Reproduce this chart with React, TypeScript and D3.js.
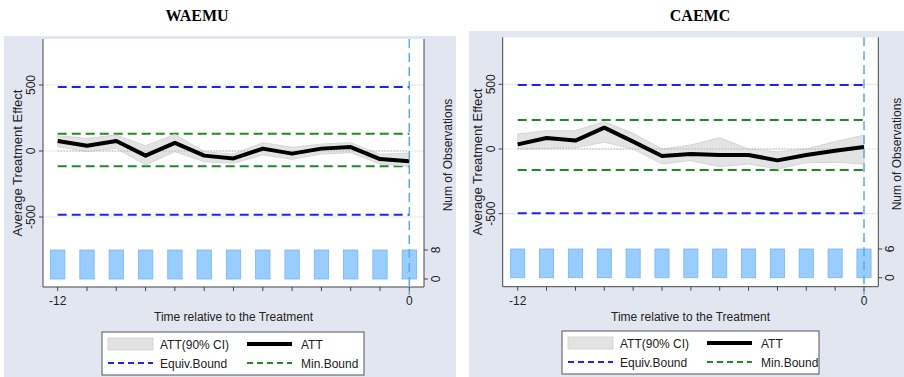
import React from "react";
import * as d3 from "d3";

// event time, relative to the treatment
const periods = [-12, -11, -10, -9, -8, -7, -6, -5, -4, -3, -2, -1, 0];
const yTicks = [-500, 0, 500];

// WAEMU
const waemuAtt = [76, 40, 76, -35, 61, -35, -56, 18, -20, 18, 30, -61, -78];
const waemuLo = [33, -5, 20, -106, -5, -81, -93, -30, -63, -23, -13, -99, -116];
const waemuHi = [116, 96, 121, 40, 126, -5, -23, 63, 28, 53, 63, -25, -15];
const waemuObs = [8, 8, 8, 8, 8, 8, 8, 8, 8, 8, 8, 8, 8];
const waemuEquiv = [485, -483];
const waemuMin = [131, -116];

// CAEMC
const caemcAtt = [36, 85, 65, 165, 57, -54, -39, -46, -46, -88, -46, -13, 15];
const caemcLo = [0, 5, 10, 52, 0, -116, -90, -137, -116, -155, -106, -103, -116];
const caemcHi = [116, 142, 142, 212, 121, 0, 31, 88, 0, -21, 0, 57, 108];
const caemcObs = [6, 6, 6, 6, 6, 6, 6, 6, 6, 6, 6, 6, 6];
const caemcEquiv = [495, -497];
const caemcMin = [224, -162];

const SANS = "'Liberation Sans', Arial, sans-serif";
const SERIF = "'Liberation Serif', 'Times New Roman', serif";
const BLUE = "#2020ff";
const GREEN = "#1e8c1e";
const VLINE = "#5aa9f5";

type PanelProps = {
  title: string;
  titleX: number;
  bg: [number, number, number, number];
  box: [number, number, number, number];
  xRange: [number, number];
  yRange: [number, number];
  rRange: [number, number];
  obsTick: number;
  att: number[];
  lo: number[];
  hi: number[];
  obs: number[];
  equiv: number[];
  minB: number[];
  legend: [number, number, number, number];
};

const Panel = (p: PanelProps) => {
  const [x0, y0, x1, y1] = p.box;
  const x = d3.scaleLinear().domain([-12, 0]).range(p.xRange);
  const y = d3.scaleLinear().domain([-500, 500]).range(p.yRange);
  const yR = d3.scaleLinear().domain([0, p.obsTick]).range(p.rRange);
  const step = x(1) - x(0);
  const barW = step * 0.49;

  const band = d3
    .area<number>()
    .x((d) => x(d))
    .y0((_, i) => y(p.lo[i]))
    .y1((_, i) => y(p.hi[i]));
  const line = d3
    .line<number>()
    .x((d) => x(d))
    .y((_, i) => y(p.att[i]));

  const [lx, ly, lw, lh] = p.legend;
  const midY = (y0 + y1) / 2;
  // keep the right-hand title inside the page
  const rightTitleX = Math.min(x1 + 27.5, 901);

  return (
    <g>
      <rect x={p.bg[0]} y={p.bg[1]} width={p.bg[2]} height={p.bg[3]} fill="#e2e6f1" />
      <text x={p.titleX} y={20.5} textAnchor="middle" fontFamily={SERIF} fontWeight="bold" fontSize={16}>
        {p.title}
      </text>
      <rect x={x0} y={y0} width={x1 - x0} height={y1 - y0} fill="#fff" />

      {/* grid */}
      {yTicks.map((t) => (
        <line key={t} x1={x0} x2={x1} y1={y(t)} y2={y(t)} stroke="#e9e9e9" strokeWidth={1.2} />
      ))}

      {/* observations */}
      {periods.map((t, i) => (
        <rect
          key={t}
          x={x(t) - barW / 2}
          y={yR(p.obs[i])}
          width={barW}
          height={yR(0) - yR(p.obs[i])}
          fill="#99ccff"
          stroke="#74b6fb"
          strokeWidth={0.8}
        />
      ))}

      {/* bounds */}
      {p.equiv.map((v, i) => (
        <line key={"e" + i} x1={x(-12)} x2={x(0)} y1={y(v)} y2={y(v)} stroke={BLUE} strokeWidth={2} strokeDasharray="9,5" />
      ))}
      {p.minB.map((v, i) => (
        <line key={"m" + i} x1={x(-12)} x2={x(0)} y1={y(v)} y2={y(v)} stroke={GREEN} strokeWidth={2} strokeDasharray="9,5" />
      ))}

      <path d={band(periods) ?? ""} fill="#e3e3e3" stroke="#cfcfcf" strokeWidth={0.8} />
      <line x1={x(-12)} x2={x(0)} y1={y(0)} y2={y(0)} stroke="#9a9a9a" strokeWidth={1} strokeDasharray="1,2" />
      <path d={line(periods) ?? ""} fill="none" stroke="#000" strokeWidth={4} strokeLinejoin="round" />

      <line x1={x(0)} x2={x(0)} y1={y0} y2={y1 + 8} stroke={VLINE} strokeWidth={1.5} strokeDasharray="9,5" />

      {/* axes */}
      <line x1={x0} x2={x0} y1={y0} y2={y1} stroke="#444" />
      <line x1={x1} x2={x1} y1={y0} y2={y1} stroke="#444" />
      <line x1={x0} x2={x1} y1={y1} y2={y1} stroke="#444" />
      {yTicks.map((t) => (
        <g key={t}>
          <line x1={x0 - 4} x2={x0} y1={y(t)} y2={y(t)} stroke="#444" />
          <text transform={`translate(${x0 - 8},${y(t)}) rotate(-90)`} textAnchor="middle" fontFamily={SANS} fontSize={12} fill="#222">
            {t}
          </text>
        </g>
      ))}
      {[0, p.obsTick].map((t) => (
        <g key={"r" + t}>
          <line x1={x1} x2={x1 + 4} y1={yR(t)} y2={yR(t)} stroke="#444" />
          <text transform={`translate(${x1 + 15.5},${yR(t)}) rotate(-90)`} textAnchor="middle" fontFamily={SANS} fontSize={12} fill="#222">
            {t}
          </text>
        </g>
      ))}
      {periods.map((t) => (
        <line key={"t" + t} x1={x(t)} x2={x(t)} y1={y1} y2={y1 + 4} stroke="#444" />
      ))}
      {[-12, 0].map((t) => (
        <text key={"l" + t} x={x(t)} y={y1 + 18} textAnchor="middle" fontFamily={SANS} fontSize={12} fill="#222">
          {t}
        </text>
      ))}
      <text x={(x0 + x1) / 2} y={y1 + 34} textAnchor="middle" fontFamily={SANS} fontSize={12} fill="#222">
        Time relative to the Treatment
      </text>
      <text transform={`translate(${x0 - 21},${midY}) rotate(-90)`} textAnchor="middle" fontFamily={SANS} fontSize={13} fill="#222">
        Average Treatment Effect
      </text>
      <text transform={`translate(${rightTitleX},${midY - 8}) rotate(-90)`} textAnchor="middle" fontFamily={SANS} fontSize={12} fill="#222">
        Num of Observations
      </text>

      {/* legend */}
      <rect x={lx} y={ly} width={lw} height={lh} fill="#fff" stroke="#555" strokeWidth={1} />
      <rect x={lx + 6} y={ly + 6} width={45} height={12} fill="#e3e3e3" stroke="#cfcfcf" strokeWidth={0.8} />
      <text x={lx + 58} y={ly + 16.5} fontFamily={SANS} fontSize={12} fill="#222">ATT(90% CI)</text>
      <line x1={lx + 145} x2={lx + 190} y1={ly + 12} y2={ly + 12} stroke="#000" strokeWidth={4} />
      <text x={lx + 199} y={ly + 16.5} fontFamily={SANS} fontSize={12} fill="#222">ATT</text>
      <line x1={lx + 6} x2={lx + 51} y1={ly + 31} y2={ly + 31} stroke={BLUE} strokeWidth={2} strokeDasharray="6,4" />
      <text x={lx + 58} y={ly + 35.5} fontFamily={SANS} fontSize={12} fill="#222">Equiv.Bound</text>
      <line x1={lx + 145} x2={lx + 190} y1={ly + 31} y2={ly + 31} stroke={GREEN} strokeWidth={2} strokeDasharray="6,4" />
      <text x={lx + 199} y={ly + 35.5} fontFamily={SANS} fontSize={12} fill="#222">Min.Bound</text>
    </g>
  );
};

export default function App() {
  return (
    <svg width={904} height={377} style={{ position: "absolute", left: 0, top: 0, background: "#fff" }}>
      <Panel
        title="WAEMU"
        titleX={197}
        bg={[4, 36, 452, 341]}
        box={[43, 39, 424, 287]}
        xRange={[57.7, 409.3]}
        yRange={[217, 85]}
        rRange={[279, 250]}
        obsTick={8}
        att={waemuAtt}
        lo={waemuLo}
        hi={waemuHi}
        obs={waemuObs}
        equiv={waemuEquiv}
        minB={waemuMin}
        legend={[102, 332, 262, 43]}
      />
      <Panel
        title="CAEMC"
        titleX={700}
        bg={[469, 31, 435, 346]}
        box={[502.7, 37.3, 878.3, 286.7]}
        xRange={[517.7, 864]}
        yRange={[213.7, 84.3]}
        rRange={[277.7, 249]}
        obsTick={6}
        att={caemcAtt}
        lo={caemcLo}
        hi={caemcHi}
        obs={caemcObs}
        equiv={caemcEquiv}
        minB={caemcMin}
        legend={[562, 331, 257, 43]}
      />
    </svg>
  );
}
